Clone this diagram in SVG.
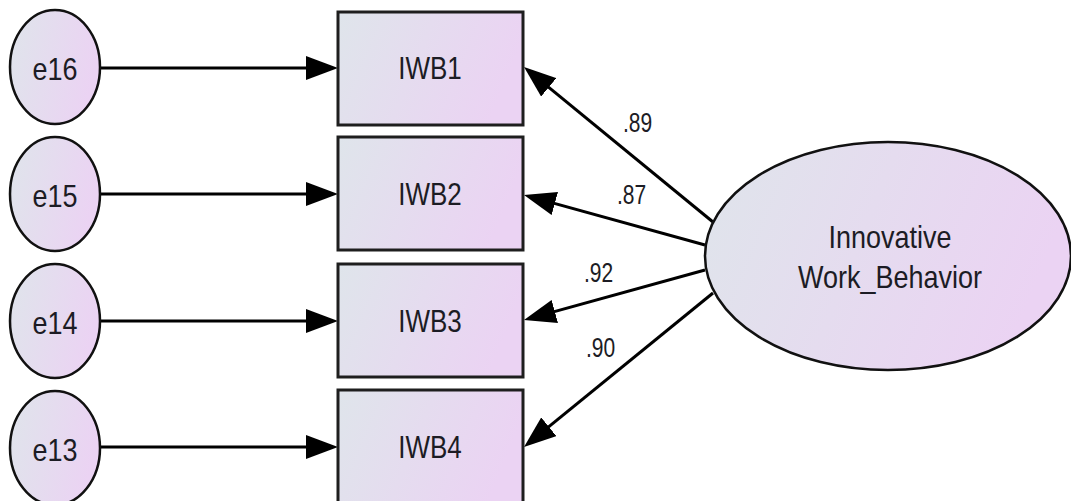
<svg xmlns="http://www.w3.org/2000/svg" width="1071" height="501" viewBox="0 0 1071 501">
  <defs>
    <linearGradient id="fill" x1="0" y1="0" x2="1" y2="0.25">
      <stop offset="0" stop-color="#DFE5EB"/>
      <stop offset="1" stop-color="#EBD3F3"/>
    </linearGradient>
    <marker id="head" viewBox="0 0 32 24" refX="24" refY="12" markerWidth="32" markerHeight="24" markerUnits="userSpaceOnUse" orient="auto">
      <path d="M0,0 L32,12 L0,24 Z" fill="#000"/>
    </marker>
    <style>
      .box { fill: url(#fill); stroke: #1e1e1e; stroke-width: 3; }
      .oval { fill: url(#fill); stroke: #111; stroke-width: 2.5; }
      .edge { stroke: #000; stroke-width: 3; fill: none; marker-end: url(#head); }
      .lbl { font-family: "Liberation Sans", Arial, sans-serif; fill: #1c1c24; text-anchor: middle; }
      .coef { font-family: "Liberation Sans", Arial, sans-serif; fill: #1c1c24; font-size: 21px; }
    </style>
  </defs>
  <rect width="1071" height="501" fill="#fff"/>

  <!-- paths: error terms to indicators, latent factor to indicators -->
  <g id="connectors">
    <line class="edge" x1="101" y1="68" x2="330" y2="68"/>
    <line class="edge" x1="101" y1="194" x2="330" y2="194"/>
    <line class="edge" x1="101" y1="321" x2="330" y2="321"/>
    <line class="edge" x1="101" y1="447" x2="330" y2="447"/>
    <line class="edge" x1="713" y1="222" x2="530.2" y2="72.1"/>
    <line class="edge" x1="705" y1="245" x2="531.7" y2="197.1"/>
    <line class="edge" x1="705" y1="270" x2="531.7" y2="317.9"/>
    <line class="edge" x1="713" y1="293" x2="530.2" y2="441.9"/>
    <text class="coef" transform="translate(623,132) scale(1,1.28)">.89</text>
    <text class="coef" transform="translate(617,204) scale(1,1.28)">.87</text>
    <text class="coef" transform="translate(584,282) scale(1,1.28)">.92</text>
    <text class="coef" transform="translate(586,357) scale(1,1.28)">.90</text>
  </g>

  <!-- error terms -->
  <g id="e16">
    <ellipse class="oval" cx="55" cy="67" rx="45" ry="57"/>
    <text class="lbl" font-size="27" transform="translate(55,80) scale(1,1.18)">e16</text>
  </g>
  <g id="e15">
    <ellipse class="oval" cx="55" cy="194" rx="45" ry="57"/>
    <text class="lbl" font-size="27" transform="translate(55,207) scale(1,1.18)">e15</text>
  </g>
  <g id="e14">
    <ellipse class="oval" cx="55" cy="321" rx="45" ry="57"/>
    <text class="lbl" font-size="27" transform="translate(55,334) scale(1,1.18)">e14</text>
  </g>
  <g id="e13">
    <ellipse class="oval" cx="55" cy="448" rx="45" ry="57"/>
    <text class="lbl" font-size="27" transform="translate(55,461) scale(1,1.18)">e13</text>
  </g>

  <!-- observed indicators -->
  <g id="IWB1">
    <rect class="box" x="338" y="12" width="185" height="113"/>
    <text class="lbl" font-size="26" transform="translate(430,79) scale(1,1.22)">IWB1</text>
  </g>
  <g id="IWB2">
    <rect class="box" x="338" y="137" width="185" height="113"/>
    <text class="lbl" font-size="26" transform="translate(430,205) scale(1,1.22)">IWB2</text>
  </g>
  <g id="IWB3">
    <rect class="box" x="338" y="264" width="185" height="113"/>
    <text class="lbl" font-size="26" transform="translate(430,332) scale(1,1.22)">IWB3</text>
  </g>
  <g id="IWB4">
    <rect class="box" x="338" y="390" width="185" height="113"/>
    <text class="lbl" font-size="26" transform="translate(430,458) scale(1,1.22)">IWB4</text>
  </g>

  <!-- latent factor -->
  <g id="Innovative_Work_Behavior">
    <ellipse class="oval" cx="888" cy="256" rx="183" ry="114"/>
    <text class="lbl" font-size="27" transform="translate(890,248) scale(1,1.15)">Innovative</text>
    <text class="lbl" font-size="27" transform="translate(890,288) scale(1,1.15)">Work_Behavior</text>
  </g>
</svg>
